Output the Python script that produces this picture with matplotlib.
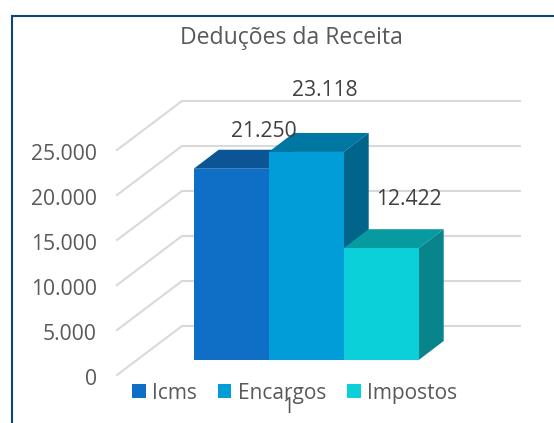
import matplotlib
matplotlib.use("Agg")
import matplotlib.pyplot as plt
from matplotlib.lines import Line2D
from matplotlib.patches import Patch, Polygon

plt.rcParams['font.family'] = ['Open Sans', 'DejaVu Sans']

title = "Deduções da Receita"
series = ["Icms", "Encargos", "Impostos"]
values = [21250, 23118, 12422]
value_labels = ["21.250", "23.118", "12.422"]
grid_values = [0, 5000, 10000, 15000, 20000, 25000]
grid_labels = ["0", "5.000", "10.000", "15.000", "20.000", "25.000"]
category = "1"

front_colors = ["#0F6FC6", "#009DD9", "#0BD0D9"]
top_colors = ["#0B5597", "#0076A3", "#089AA1"]
side_colors = ["#094A84", "#00648B", "#07858A"]

W, H = 554, 423
fig = plt.figure(figsize=(W / 100, H / 100), dpi=100)

# one x unit is one bar, 75 px wide, 45 px is 5000
ax = fig.add_axes([193.7 / W, 1 - 360 / H, 225 / W, 225 / H])
ax.set_xlim(0, 3)
ax.set_ylim(0, 25000)
ax.axis("off")

PX_X = 1 / 75
PX_Y = 5000 / 45
bar_dx, bar_dy = 25 * PX_X, 19 * PX_Y

# walls of the 3d box
front_x, back_x, right_x = -76.7 * PX_X, -11.7 * PX_X, 326.3 * PX_X
front_y, back_y = -15 * PX_Y, 34 * PX_Y
for v, lab in zip(grid_values, grid_labels):
    ax.plot([front_x, back_x, right_x], [v + front_y, v + back_y, v + back_y],
            color="#D9D9D9", lw=1.5, clip_on=False, zorder=1)
    ax.annotate(lab, (front_x, v + front_y), xytext=(-14.5, -3.2),
                textcoords="offset points", ha="right", va="center",
                fontsize=15.2, color="#595959", annotation_clip=False)

# bars, left to right so each one covers the previous side
offsets = [(33, 37.5), (19, 61.5), (28, 48.5)]
for i, v in enumerate(values):
    x0, x1 = i, i + 1
    z = 2 + i
    ax.add_patch(Polygon([(x0, v), (x1, v), (x1 + bar_dx, v + bar_dy), (x0 + bar_dx, v + bar_dy)],
                         fc=top_colors[i], ec="none", clip_on=False, zorder=z))
    ax.add_patch(Polygon([(x1, 0), (x1 + bar_dx, bar_dy), (x1 + bar_dx, v + bar_dy), (x1, v)],
                         fc=side_colors[i], ec="none", clip_on=False, zorder=z))
    ax.bar(x0, v, width=1, align="edge", color=front_colors[i], clip_on=False, zorder=z)

for i, v in enumerate(values):
    dx, dy = offsets[i]
    ax.annotate(value_labels[i], (i + 0.5, v), xytext=(dx * 0.72, dy * 0.72),
                textcoords="offset points", ha="center", va="center",
                fontsize=15.2, color="#404040", annotation_clip=False, zorder=10)

fig.text(291.5 / W, 1 - 38 / H, title, ha="center", va="center",
         fontsize=16.6, color="#595959")
fig.text(288 / W, 1 - 407 / H, category, ha="center", va="center",
         fontsize=15.2, color="#595959")

handles = [Patch(fc=c, ec="none", label=s) for c, s in zip(front_colors, series)]
fig.legend(handles=handles, ncol=3, frameon=False, loc="center",
           bbox_to_anchor=(294.5 / W, 1 - 393 / H), fontsize=15,
           labelcolor="#595959", handlelength=0.66, handleheight=0.66,
           handletextpad=0.3, columnspacing=1.0, borderpad=0, borderaxespad=0)

# chart frame runs off the right and bottom of the crop
fig.add_artist(Line2D([11.5 / W, 11.5 / W, 1], [0, 1 - 16 / H, 1 - 16 / H],
                      color="#0F4476", lw=1.5, solid_joinstyle="miter"))

fig.savefig("out.png", dpi=100)
